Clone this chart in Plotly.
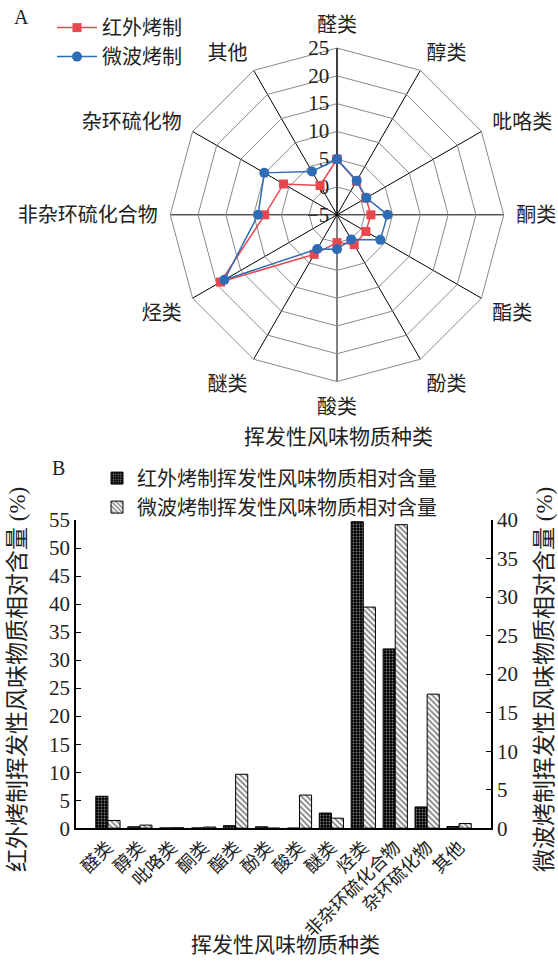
import plotly.graph_objects as go

# ---- radar chart data (A) ----
radar_categories = ["醛类", "醇类", "吡咯类", "酮类", "酯类", "酚类",
                    "酸类", "醚类", "烃类", "非杂环硫化合物", "杂环硫化物", "其他"]
radar_infrared = [5.0, 2.0, 1.0, 1.1, 1.0, 1.2, 0.0, 3.2, 19.2, 8.0, 6.1, 1.1]
radar_microwave = [5.0, 2.1, 1.1, 4.1, 4.0, 0.1, 1.2, 2.1, 18.4, 9.2, 10.1, 4.0]

# ---- bar chart data (B) ----
bar_categories = ["醛类", "醇类", "吡咯类", "酮类", "酯类", "酚类",
                  "酸类", "醚类", "烃类", "非杂环硫化合物", "杂环硫化物", "其他"]
bar_infrared = [5.7, 0.25, 0.05, 0.05, 0.45, 0.25, 0.0, 2.7, 54.7, 32.0, 3.8, 0.3]   # left axis
bar_microwave = [1.0, 0.4, 0.05, 0.15, 7.0, 0.0, 4.3, 1.3, 28.7, 39.4, 17.4, 0.6]   # right axis

W, H = 558, 965
FONT = "Liberation Serif, Times New Roman, Noto Sans CJK SC"
TXT = "#222222"
RED = "#e8474f"
BLUE = "#2e6db6"
R_RANGE = [-5, 25]


def px(x):
    return x / W


def py(y):
    return 1 - y / H


fig = go.Figure()

theta_closed = radar_categories + radar_categories[:1]

# the polygon-grid subplot ("polar") only carries the category order;
# the visible series live on an overlaid circular subplot ("polar2") with
# identical geometry, so that points near the centre are not culled
for vals in (radar_infrared, radar_microwave):
    fig.add_trace(go.Scatterpolar(
        r=vals + vals[:1], theta=theta_closed, subplot="polar",
        mode="lines", line=dict(width=0, color="rgba(0,0,0,0)"),
        hoverinfo="skip", showlegend=False,
    ))

fig.add_trace(go.Scatterpolar(
    r=radar_infrared + radar_infrared[:1], theta=theta_closed, subplot="polar2",
    mode="lines+markers", name="红外烤制",
    line=dict(color=RED, width=1.5),
    marker=dict(symbol="square", size=9, color=RED),
    legend="legend",
))
fig.add_trace(go.Scatterpolar(
    r=radar_microwave + radar_microwave[:1], theta=theta_closed, subplot="polar2",
    mode="lines+markers", name="微波烤制",
    line=dict(color=BLUE, width=1.5),
    marker=dict(symbol="circle", size=10, color=BLUE),
    legend="legend",
))

# grouped bars on two y axes
fig.add_trace(go.Bar(
    x=bar_categories, y=bar_infrared, name="红外烤制挥发性风味物质相对含量",
    xaxis="x", yaxis="y", offset=-0.38, width=0.38,
    marker=dict(color="black", line=dict(color="black", width=1),
                pattern=dict(shape=".", fgcolor="white", bgcolor="black",
                             size=3, solidity=0.3)),
    legend="legend2",
))
fig.add_trace(go.Bar(
    x=bar_categories, y=bar_microwave, name="微波烤制挥发性风味物质相对含量",
    xaxis="x", yaxis="y2", offset=0.0, width=0.38,
    marker=dict(color="white", line=dict(color="black", width=1),
                pattern=dict(shape="\\", fgcolor="black", bgcolor="white",
                             size=4, solidity=0.45)),
    legend="legend2",
))

polar_domain = dict(x=[px(166), px(508)], y=[py(379), py(37)])

fig.update_layout(
    width=W, height=H,
    margin=dict(l=0, r=0, t=0, b=0),
    paper_bgcolor="white", plot_bgcolor="white",
    font=dict(family=FONT, size=20, color=TXT),
    showlegend=True,
    polar=dict(
        domain=polar_domain,
        gridshape="linear",
        bgcolor="white",
        radialaxis=dict(
            range=R_RANGE, dtick=5, angle=90, tickangle=90,
            side="counterclockwise",
            showline=True, linecolor="black", linewidth=1,
            gridcolor="#8a8a8a", gridwidth=1, ticks="",
            tickfont=dict(family=FONT, size=21, color=TXT),
        ),
        angularaxis=dict(
            rotation=90, direction="clockwise",
            linecolor="#8a8a8a", linewidth=1,
            gridcolor="black", gridwidth=1,
            ticks="outside", ticklen=8, tickcolor="rgba(0,0,0,0)",
            tickfont=dict(family=FONT, size=20, color=TXT),
        ),
    ),
    polar2=dict(
        domain=polar_domain,
        gridshape="circular",
        bgcolor="rgba(0,0,0,0)",
        radialaxis=dict(
            range=R_RANGE, angle=90,
            showline=False, showgrid=False, showticklabels=False, ticks="",
        ),
        angularaxis=dict(
            rotation=90, direction="clockwise",
            showline=False, showgrid=False, showticklabels=False, ticks="",
        ),
    ),
    legend=dict(
        x=px(52), y=py(-4), xanchor="left", yanchor="top",
        bgcolor="rgba(0,0,0,0)", font=dict(family=FONT, size=20, color=TXT),
        tracegroupgap=0, itemwidth=40,
    ),
    legend2=dict(
        x=px(97), y=py(458), xanchor="left", yanchor="top",
        bgcolor="rgba(0,0,0,0)", font=dict(family=FONT, size=20, color=TXT),
        tracegroupgap=0,
    ),
    xaxis=dict(
        domain=[px(76), px(491)], anchor="y",
        type="category", range=[-1, 12],
        showline=True, linecolor="black", linewidth=1.5,
        ticks="", tickangle=-45,
        tickfont=dict(family=FONT, size=18, color=TXT),
    ),
    yaxis=dict(
        domain=[py(837), py(521)], anchor="x",
        range=[0, 55], dtick=5,
        showline=True, linecolor="black", linewidth=1.5,
        showgrid=False, zeroline=False,
        ticks="inside", ticklen=5, tickcolor="black",
        tickfont=dict(family=FONT, size=21, color=TXT),
    ),
    yaxis2=dict(
        overlaying="y", side="right", anchor="x",
        range=[0, 40], dtick=5,
        showline=True, linecolor="black", linewidth=1.5,
        showgrid=False, zeroline=False,
        ticks="inside", ticklen=5, tickcolor="black",
        tickfont=dict(family=FONT, size=21, color=TXT),
    ),
    annotations=[
        dict(text="A", x=px(12), y=py(5), xref="paper", yref="paper",
             showarrow=False, xanchor="left", yanchor="middle",
             font=dict(family=FONT, size=20, color=TXT)),
        dict(text="B", x=px(50), y=py(468), xref="paper", yref="paper",
             showarrow=False, xanchor="left", yanchor="middle",
             font=dict(family=FONT, size=20, color=TXT)),
        dict(text="挥发性风味物质种类", x=px(338), y=py(436), xref="paper", yref="paper",
             showarrow=False, xanchor="center", yanchor="middle",
             font=dict(family=FONT, size=21, color=TXT)),
        dict(text="挥发性风味物质种类", x=px(285), y=py(957), xref="paper", yref="paper",
             showarrow=False, xanchor="center", yanchor="middle",
             font=dict(family=FONT, size=21, color=TXT)),
        dict(text="红外烤制挥发性风味物质相对含量 (%)", x=px(18), y=py(685),
             xref="paper", yref="paper", showarrow=False, textangle=-90,
             xanchor="center", yanchor="middle",
             font=dict(family=FONT, size=23, color=TXT)),
        dict(text="微波烤制挥发性风味物质相对含量 (%)", x=px(545), y=py(685),
             xref="paper", yref="paper", showarrow=False, textangle=-90,
             xanchor="center", yanchor="middle",
             font=dict(family=FONT, size=23, color=TXT)),
    ],
)

fig.write_html("out.html")
